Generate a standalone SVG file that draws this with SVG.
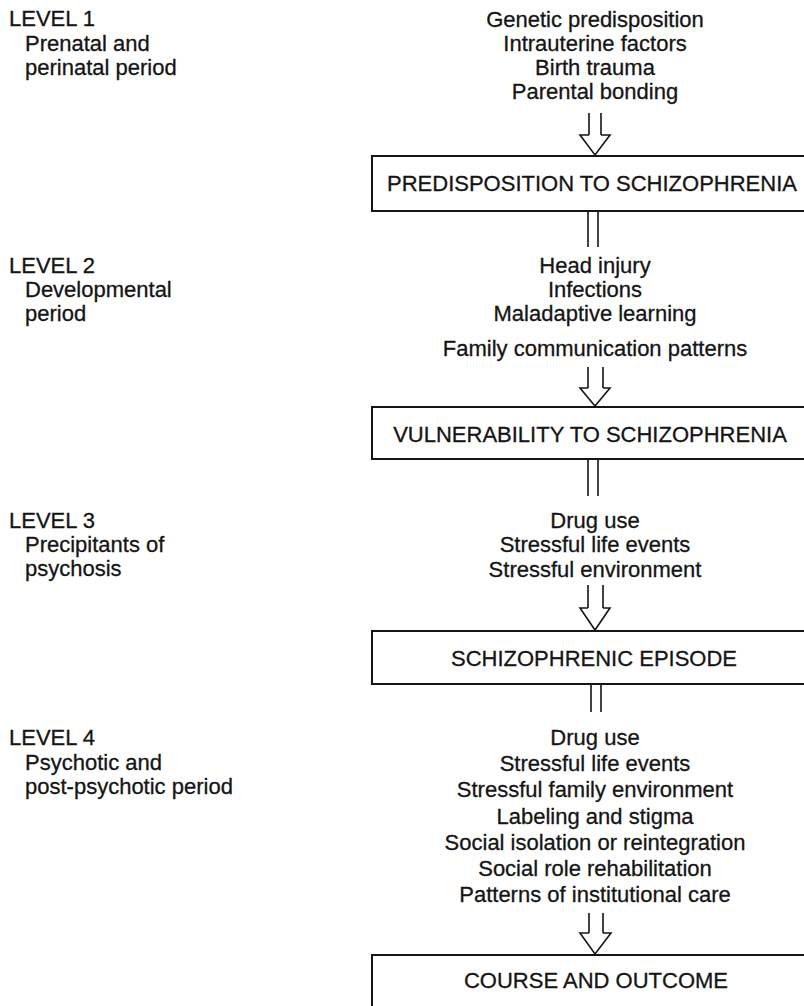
<svg xmlns="http://www.w3.org/2000/svg" width="804" height="1006" viewBox="0 0 804 1006">
<defs>
<style>
text{font-family:"Liberation Sans",Arial,sans-serif;font-size:22px;fill:#151515;stroke:#151515;stroke-width:0.3}
.c{text-anchor:middle}
.box{fill:none;stroke:#151515;stroke-width:2}
.ln{fill:none;stroke:#151515;stroke-width:1.6}
.ah{fill:#fff;stroke:#151515;stroke-width:1.6;stroke-linejoin:miter}
</style>
</defs>
<rect width="804" height="1006" fill="#fff"/>
<g id="levels">
<text x="9" y="26">LEVEL 1</text>
<text x="25" y="51">Prenatal and</text>
<text x="25" y="75">perinatal period</text>
<text x="9" y="273">LEVEL 2</text>
<text x="25" y="297">Developmental</text>
<text x="25" y="321">period</text>
<text x="9" y="528">LEVEL 3</text>
<text x="25" y="552">Precipitants of</text>
<text x="25" y="576">psychosis</text>
<text x="9" y="745">LEVEL 4</text>
<text x="25" y="770">Psychotic and</text>
<text x="25" y="794">post-psychotic period</text>
</g>
<g id="factors1">
<text class="c" x="595" y="27">Genetic predisposition</text>
<text class="c" x="595" y="51">Intrauterine factors</text>
<text class="c" x="595" y="75">Birth trauma</text>
<text class="c" x="595" y="99">Parental bonding</text>
</g>
<g id="node-predisposition">
<rect class="box" x="372" y="156" width="450" height="55"/>
<text class="c" x="592" y="191">PREDISPOSITION TO SCHIZOPHRENIA</text>
</g>
<g id="factors2">
<text class="c" x="595" y="273">Head injury</text>
<text class="c" x="595" y="297">Infections</text>
<text class="c" x="595" y="321">Maladaptive learning</text>
<text class="c" x="595" y="356">Family communication patterns</text>
</g>
<g id="node-vulnerability">
<rect class="box" x="372" y="407" width="450" height="52"/>
<text class="c" x="590" y="442">VULNERABILITY TO SCHIZOPHRENIA</text>
</g>
<g id="factors3">
<text class="c" x="595" y="528">Drug use</text>
<text class="c" x="595" y="552">Stressful life events</text>
<text class="c" x="595" y="577">Stressful environment</text>
</g>
<g id="node-episode">
<rect class="box" x="372" y="631" width="450" height="53"/>
<text class="c" x="594" y="666">SCHIZOPHRENIC EPISODE</text>
</g>
<g id="factors4">
<text class="c" x="595" y="745">Drug use</text>
<text class="c" x="595" y="771">Stressful life events</text>
<text class="c" x="595" y="797">Stressful family environment</text>
<text class="c" x="595" y="824">Labeling and stigma</text>
<text class="c" x="595" y="850">Social isolation or reintegration</text>
<text class="c" x="595" y="876">Social role rehabilitation</text>
<text class="c" x="595" y="902">Patterns of institutional care</text>
</g>
<g id="node-outcome">
<rect class="box" x="372" y="955" width="450" height="70"/>
<text class="c" x="596" y="988">COURSE AND OUTCOME</text>
</g>
<g id="connectors">
<path class="ln" d="M589 113V135M601 113V135"/>
<path class="ah" d="M589 135H580L595 155L610 135H601"/>
<path class="ln" d="M588 212V247M598 212V247"/>
<path class="ln" d="M588 367V388M603 367V388"/>
<path class="ah" d="M588 388H580L595 406L610 388H603"/>
<path class="ln" d="M588 460V496M598 460V496"/>
<path class="ln" d="M588 585V608M603 585V608"/>
<path class="ah" d="M588 608H580L595 630L610 608H603"/>
<path class="ln" d="M591 685V712M601 685V712"/>
<path class="ln" d="M589 913V933M603 913V933"/>
<path class="ah" d="M589 933H580L595 954L611 933H603"/>
</g>
</svg>
